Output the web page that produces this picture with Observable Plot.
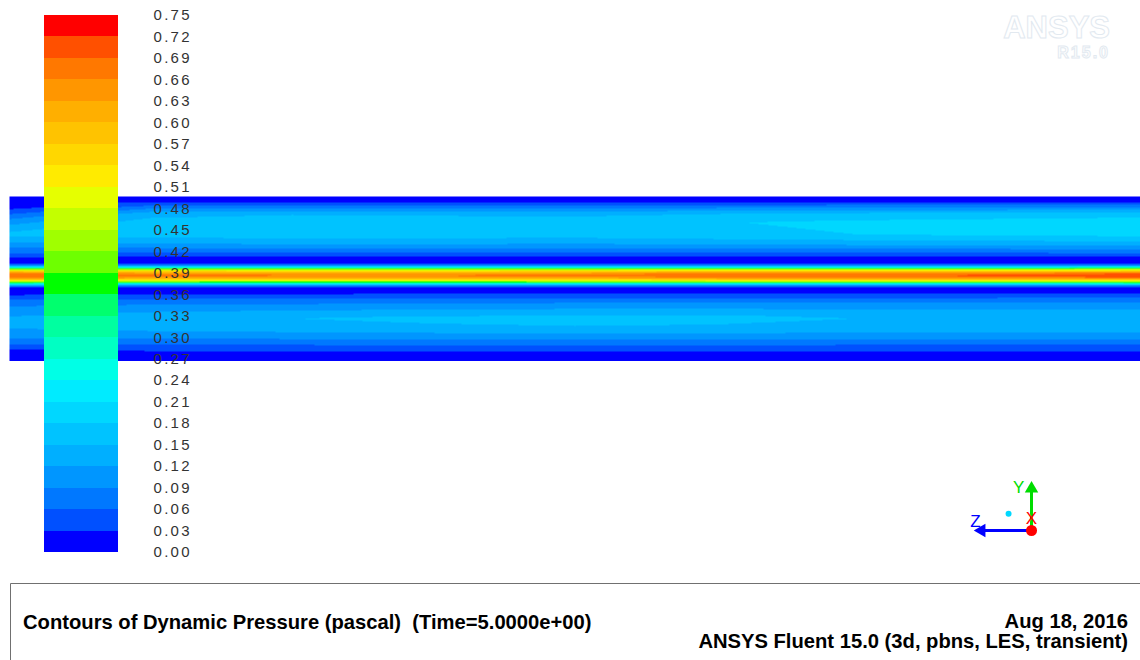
<!DOCTYPE html>
<html>
<head>
<meta charset="utf-8">
<script src="https://cdn.jsdelivr.net/npm/d3@7"></script>
<script src="https://cdn.jsdelivr.net/npm/@observablehq/plot@0.6"></script>
<style>
  body { margin: 0; background: #fff; }
  #stage {
    position: relative; width: 1140px; height: 660px; overflow: hidden;
    background: #fff; font-family: "Liberation Sans", Arial, sans-serif;
  }
  #stage > * { position: absolute; }
</style>
</head>
<body>
<div id="stage"></div>
<script>
// Contour levels of dynamic pressure (pascal), as labelled on the colour bar
const levels = [0.00, 0.03, 0.06, 0.09, 0.12, 0.15, 0.18, 0.21, 0.24, 0.27, 0.30, 0.33, 0.36,
                0.39, 0.42, 0.45, 0.48, 0.51, 0.54, 0.57, 0.60, 0.63, 0.66, 0.69, 0.72, 0.75];

// One colour per band between consecutive levels (blue -> cyan -> green -> yellow -> red)
const bandColors = ["#0000ff", "#0050ff", "#0078ff", "#0096ff", "#00afff", "#00c3ff", "#00d7ff",
                    "#00ebff", "#00ffe6", "#00ffc3", "#00ffa0", "#00ff6e", "#00ff00", "#6eff00",
                    "#a0ff00", "#c3ff00", "#e6ff00", "#ffeb00", "#ffd700", "#ffc300", "#ffaf00",
                    "#ff9600", "#ff7800", "#ff5000", "#ff0000"];

// Axial stations along the pipe (fraction of the length shown, inlet on the left)
const axialPos = [0, 0.125, 0.25, 0.375, 0.5, 0.625, 0.75, 0.875, 1];

// Radial sample positions, y/R (+1 top wall, -1 bottom wall)
const radialPos = [1.000, 0.939, 0.903, 0.855, 0.794, 0.685, 0.539, 0.430, 0.358, 0.297, 0.248, 0.200,
                   0.164, 0.139, 0.115, 0.091, 0.067, 0.042, 0.018, -0.006, -0.030, -0.055, -0.079,
                   -0.115, -0.164, -0.212, -0.285, -0.382, -0.479, -0.600, -0.709, -0.794, -0.867,
                   -0.927, -1.000];

// Dynamic pressure across the radius at each axial station
const profileZ0000 = [0.000, 0.005, 0.012, 0.025, 0.055, 0.110, 0.160, 0.115, 0.080, 0.055, 0.025, 0.008,
  0.080, 0.260, 0.440, 0.580, 0.660, 0.690, 0.670, 0.590, 0.460, 0.290, 0.110, 0.010, 0.012, 0.040,
  0.075, 0.105, 0.125, 0.120, 0.095, 0.060, 0.025, 0.010, 0.000];
const profileZ0125 = [0.000, 0.020, 0.048, 0.088, 0.135, 0.165, 0.163, 0.120, 0.080, 0.045, 0.015, 0.010,
  0.095, 0.275, 0.445, 0.575, 0.645, 0.675, 0.645, 0.565, 0.435, 0.265, 0.095, 0.010, 0.015, 0.045,
  0.080, 0.115, 0.140, 0.130, 0.095, 0.060, 0.032, 0.012, 0.000];
const profileZ0250 = [0.000, 0.020, 0.050, 0.090, 0.145, 0.175, 0.170, 0.125, 0.080, 0.045, 0.015, 0.010,
  0.100, 0.270, 0.440, 0.570, 0.640, 0.665, 0.640, 0.560, 0.430, 0.260, 0.095, 0.010, 0.018, 0.048,
  0.082, 0.120, 0.150, 0.135, 0.098, 0.062, 0.035, 0.015, 0.000];
const profileZ0375 = [0.000, 0.020, 0.050, 0.092, 0.142, 0.172, 0.168, 0.125, 0.082, 0.045, 0.015, 0.010,
  0.100, 0.270, 0.440, 0.570, 0.640, 0.665, 0.640, 0.560, 0.430, 0.260, 0.095, 0.010, 0.020, 0.050,
  0.085, 0.125, 0.160, 0.140, 0.100, 0.065, 0.035, 0.015, 0.000];
const profileZ0500 = [0.000, 0.020, 0.050, 0.090, 0.140, 0.168, 0.166, 0.122, 0.080, 0.045, 0.015, 0.010,
  0.100, 0.275, 0.445, 0.575, 0.645, 0.670, 0.645, 0.565, 0.435, 0.265, 0.100, 0.010, 0.020, 0.050,
  0.088, 0.128, 0.165, 0.145, 0.102, 0.066, 0.035, 0.015, 0.000];
const profileZ0625 = [0.000, 0.022, 0.052, 0.095, 0.148, 0.178, 0.172, 0.128, 0.082, 0.045, 0.015, 0.010,
  0.100, 0.280, 0.455, 0.585, 0.660, 0.690, 0.660, 0.580, 0.450, 0.275, 0.100, 0.010, 0.020, 0.050,
  0.088, 0.128, 0.162, 0.142, 0.100, 0.065, 0.035, 0.015, 0.000];
const profileZ0750 = [0.000, 0.022, 0.055, 0.100, 0.155, 0.188, 0.180, 0.132, 0.085, 0.048, 0.015, 0.010,
  0.100, 0.280, 0.455, 0.585, 0.660, 0.690, 0.660, 0.580, 0.450, 0.275, 0.100, 0.010, 0.020, 0.050,
  0.088, 0.125, 0.150, 0.140, 0.100, 0.062, 0.033, 0.015, 0.000];
const profileZ0875 = [0.000, 0.022, 0.055, 0.102, 0.160, 0.193, 0.185, 0.135, 0.086, 0.048, 0.015, 0.010,
  0.100, 0.285, 0.460, 0.595, 0.670, 0.700, 0.670, 0.590, 0.455, 0.280, 0.100, 0.010, 0.020, 0.050,
  0.090, 0.125, 0.145, 0.138, 0.098, 0.062, 0.033, 0.015, 0.000];
const profileZ1000 = [0.000, 0.022, 0.058, 0.105, 0.165, 0.198, 0.190, 0.138, 0.088, 0.050, 0.015, 0.010,
  0.100, 0.290, 0.470, 0.605, 0.690, 0.710, 0.690, 0.600, 0.460, 0.285, 0.100, 0.010, 0.020, 0.050,
  0.092, 0.125, 0.145, 0.138, 0.098, 0.062, 0.033, 0.015, 0.000];

// Coordinate triad: screen projection of each axis, with its label placement
const triadAxes = [
  {axis: "Z", dx: -0.98, dy: 0,   lx: -1.1,  ly: 0.18, color: "#0000ff", rotate: -90},
  {axis: "Y", dx: 0,    dy: 0.82, lx: -0.25, ly: 0.84, color: "#00dd00", rotate: 0},
  {axis: "X", dx: 0,    dy: 0,    lx: 0,     ly: 0.24, color: "#ff0000", rotate: 0}
];

// Footer annotation
const titleText = "Contours of Dynamic Pressure (pascal)  (Time=5.0000e+00)";
const dateText = "Aug 18, 2016";
const solverText = "ANSYS Fluent 15.0 (3d, pbns, LES, transient)";

// ---------------------------------------------------------------------------
const stage = document.getElementById("stage");
const profiles = [profileZ0000, profileZ0125, profileZ0250, profileZ0375, profileZ0500,
                  profileZ0625, profileZ0750, profileZ0875, profileZ1000];

const colorScale = {type: "threshold", domain: levels.slice(1, -1), range: bandColors};

// Sample table for the contour field
const samples = [];
axialPos.forEach((z, i) => radialPos.forEach((r, j) => samples.push({z, r, p: profiles[i][j]})));

// Contour field across the pipe section
const field = Plot.plot({
  width: 1131, height: 165, margin: 0,
  x: {domain: [0, 1], axis: null},
  y: {domain: [-1, 1], axis: null},
  color: colorScale,
  marks: [
    Plot.raster(samples, {x: "z", y: "r", fill: "p", interpolate: "barycentric", pixelSize: 1,
                          x1: 0, x2: 1, y1: -1, y2: 1})
  ]
});
field.style.left = "9px";
field.style.top = "196px";
stage.appendChild(field);

// Axis triad
const triad = Plot.plot({
  width: 100, height: 80, margin: 0,
  x: {domain: [-1.49, 0.47], axis: null},
  y: {domain: [-0.392, 1.176], axis: null},
  color: {type: "identity"},
  style: {overflow: "visible", fontFamily: "Liberation Sans, Arial, sans-serif"},
  marks: [
    Plot.link(triadAxes.filter(d => d.axis !== "X"), {x1: 0, y1: 0, x2: "dx", y2: "dy", stroke: "color", strokeWidth: 3}),
    Plot.dot(triadAxes.filter(d => d.axis !== "X"), {x: "dx", y: "dy", symbol: "triangle", r: 5, fill: "color", rotate: "rotate"}),
    Plot.dot([{x: -0.45, y: 0.33}], {x: "x", y: "y", r: 3, fill: "#00d8ff"}),
    Plot.dot(triadAxes.filter(d => d.axis === "X"), {x: "dx", y: "dy", r: 5.5, fill: "color"}),
    Plot.text(triadAxes, {x: "lx", y: "ly", text: "axis", fill: "color", fontSize: 17})
  ]
});
triad.style.left = "955px";
triad.style.top = "470px";
stage.appendChild(triad);

// Product watermark and footer box
const ns = "http://www.w3.org/2000/svg";
function svgEl(tag, attrs, text) {
  const el = document.createElementNS(ns, tag);
  for (const k in attrs) el.setAttribute(k, attrs[k]);
  if (text != null) el.textContent = text;
  return el;
}

const mark = svgEl("svg", {width: 160, height: 70});
mark.style.left = "970px"; mark.style.top = "0px";
mark.appendChild(svgEl("text", {x: 140, y: 38, "text-anchor": "end", "font-size": 31, "font-weight": "bold",
  fill: "#ffffff", stroke: "#e2e9f0", "stroke-width": 1, "font-family": "Liberation Sans, Arial, sans-serif"}, "ANSYS"));
mark.appendChild(svgEl("text", {x: 140, y: 58, "text-anchor": "end", "font-size": 16, "font-weight": "bold",
  "letter-spacing": 2, fill: "#ffffff", stroke: "#e2e9f0", "stroke-width": 1,
  "font-family": "Liberation Sans, Arial, sans-serif"}, "R15.0"));
stage.appendChild(mark);

const footer = svgEl("svg", {width: 1140, height: 77});
footer.style.left = "0px"; footer.style.top = "583px";
footer.appendChild(svgEl("path", {d: "M10.5,77V0.5H1140", fill: "none", stroke: "#707070", "stroke-width": 1}));
const ff = {"font-family": "Liberation Sans, Arial, sans-serif", "font-size": 20.2, "font-weight": "bold",
            fill: "#000", style: "white-space: pre"};
footer.appendChild(svgEl("text", {x: 23, y: 45.5, ...ff}, titleText));
footer.appendChild(svgEl("text", {x: 1128, y: 45, "text-anchor": "end", ...ff}, dateText));
footer.appendChild(svgEl("text", {x: 1128, y: 65, "text-anchor": "end", ...ff}, solverText));
stage.appendChild(footer);

// Colour bar with its level labels
const bands = levels.slice(0, -1).map((lo, i) => ({lo, hi: levels[i + 1]}));
const bar = Plot.plot({
  width: 200, height: 570,
  marginLeft: 44, marginRight: 82, marginTop: 15, marginBottom: 18,
  x: {domain: [0, 1], axis: null},
  y: {domain: [0, 0.75], axis: null},
  color: colorScale,
  style: {overflow: "visible", background: "transparent", color: "#333",
          fontFamily: "Liberation Sans, Arial, sans-serif", fontSize: "15px", letterSpacing: "2.3px"},
  marks: [
    Plot.rect(bands, {x1: 0, x2: 1, y1: "lo", y2: "hi", fill: "lo", shapeRendering: "crispEdges"}),
    Plot.axisY(levels, {anchor: "right", tickSize: 0, tickPadding: 35, tickFormat: d3.format(".2f"),
                        label: null, fill: "#333", fontSize: 15})
  ]
});
bar.style.left = "0px";
bar.style.top = "0px";
stage.appendChild(bar);
</script>
</body>
</html>
